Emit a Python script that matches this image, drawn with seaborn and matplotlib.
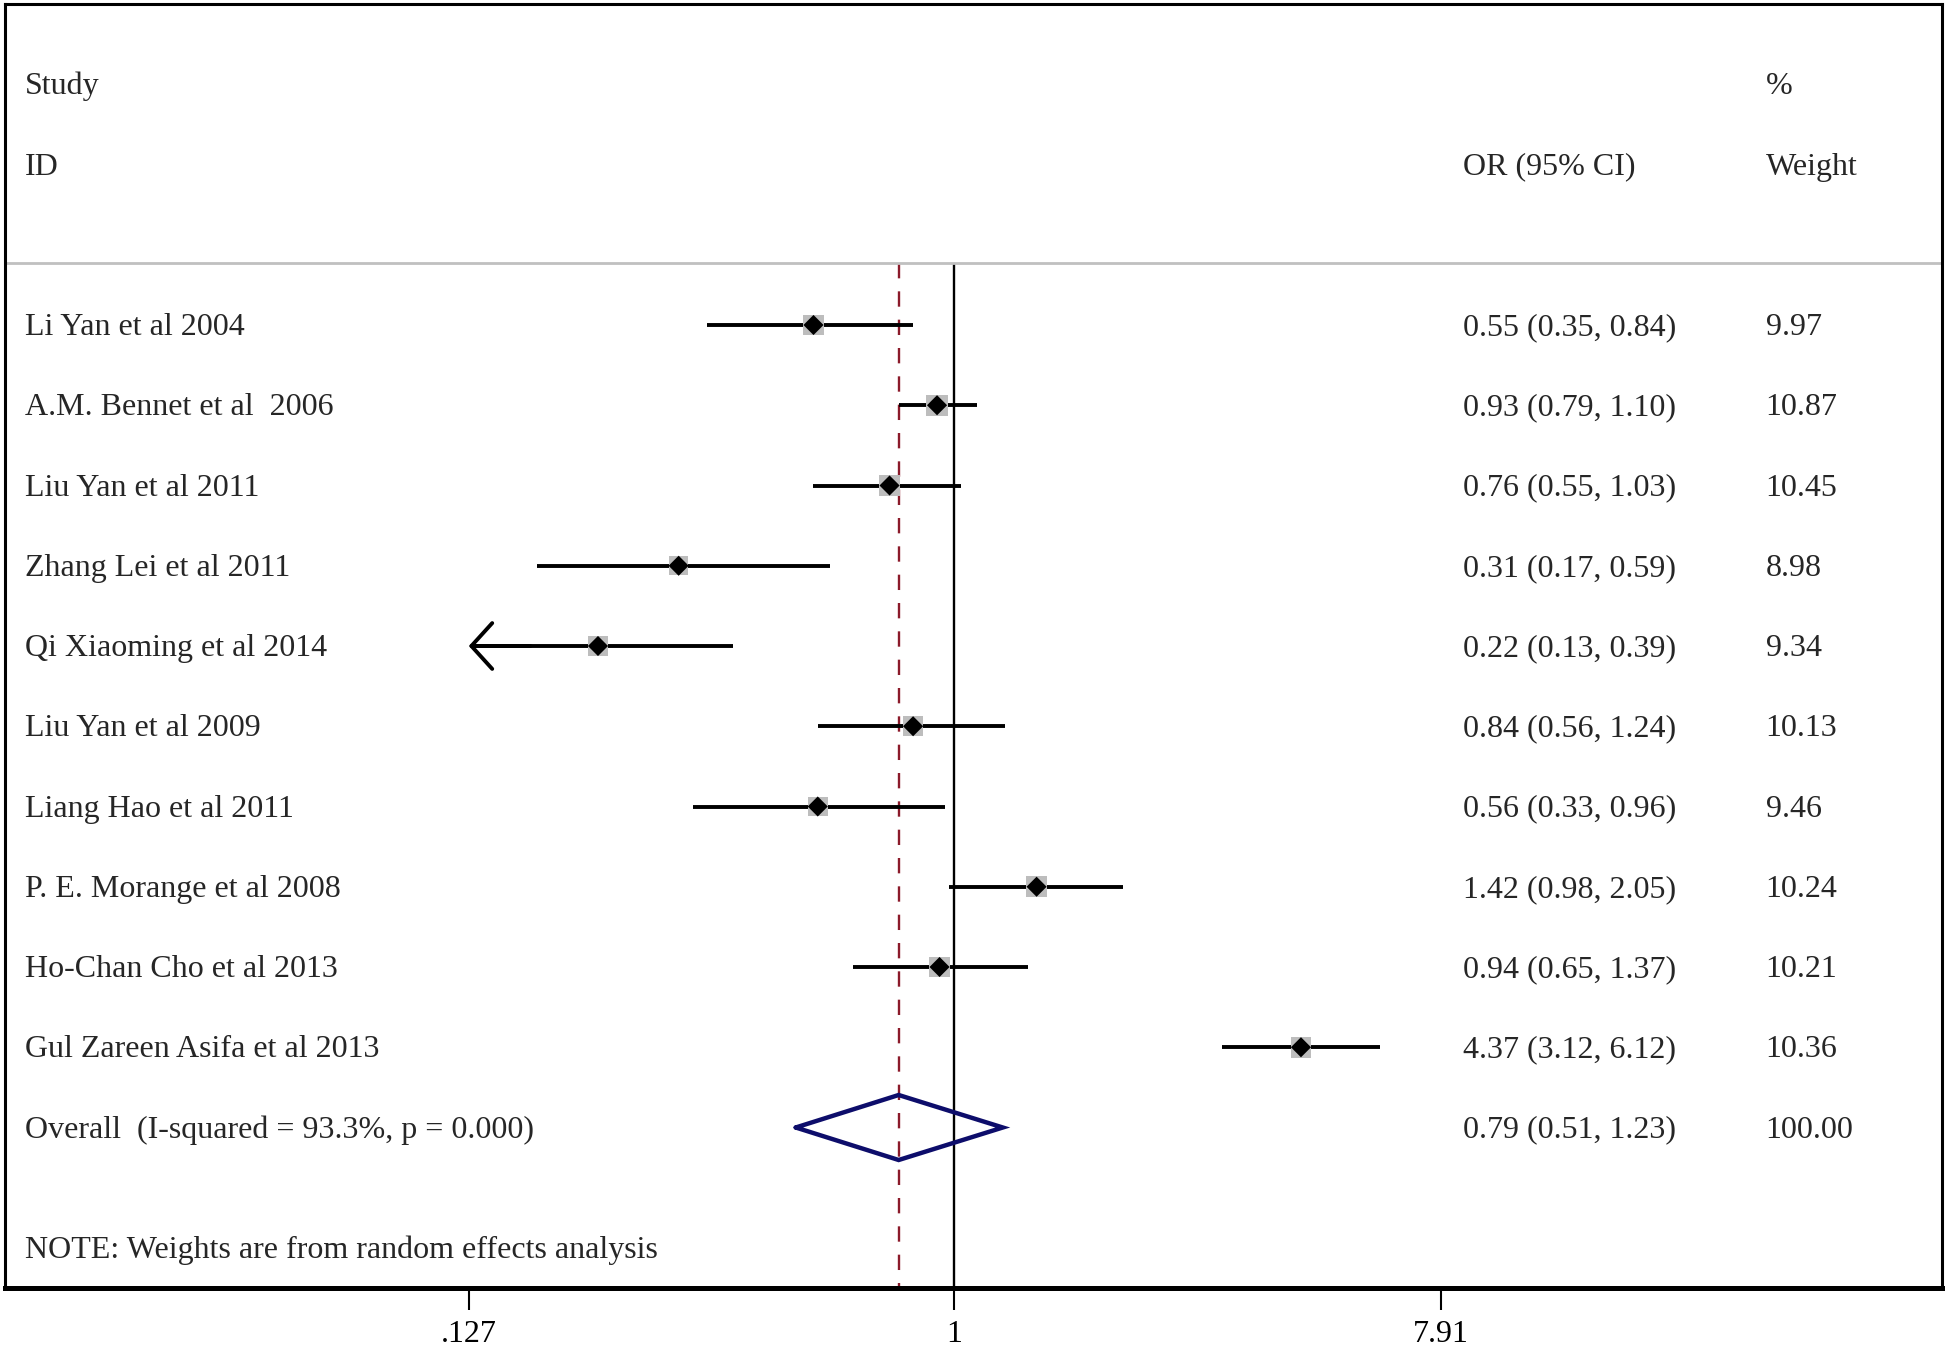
import numpy as np
import pandas as pd
import matplotlib
matplotlib.use("Agg")
import matplotlib.pyplot as plt
import seaborn as sns

# study data (OR with 95% CI, random-effects weights)
studies = ["Li Yan et al 2004", "A.M. Bennet et al  2006", "Liu Yan et al 2011",
           "Zhang Lei et al 2011", "Qi Xiaoming et al 2014", "Liu Yan et al 2009",
           "Liang Hao et al 2011", "P. E. Morange et al 2008", "Ho-Chan Cho et al 2013",
           "Gul Zareen Asifa et al 2013"]
or_vals = [0.55, 0.93, 0.76, 0.31, 0.22, 0.84, 0.56, 1.42, 0.94, 4.37]
ci_low = [0.35, 0.79, 0.55, 0.17, 0.13, 0.56, 0.33, 0.98, 0.65, 3.12]
ci_high = [0.84, 1.10, 1.03, 0.59, 0.39, 1.24, 0.96, 2.05, 1.37, 6.12]
weights = [9.97, 10.87, 10.45, 8.98, 9.34, 10.13, 9.46, 10.24, 10.21, 10.36]

overall_label = "Overall  (I-squared = 93.3%, p = 0.000)"
overall_or = 0.79
overall_low = 0.51
overall_high = 1.23
overall_weight = 100.00

x_ticks = [0.127, 1, 7.91]
x_ticklabels = [".127", "1", "7.91"]
note = "NOTE: Weights are from random effects analysis"

df = pd.DataFrame({"study": studies, "or": or_vals, "low": ci_low,
                   "high": ci_high, "weight": weights})
df["row"] = np.arange(len(df))

sns.set_theme(style="white")
plt.rcParams["font.family"] = ["Liberation Serif", "DejaVu Serif"]

W, H = 1946, 1348
fig = plt.figure(figsize=(W / 100, H / 100), dpi=100)
ax = fig.add_axes([5 / W, (H - 1288) / H, (1942 - 5) / W, (1288 - 4) / H])

ax.set_xscale("log")
ax.set_xlim(0.01768, 66.7)
ax.set_ylim(12, -4)

fs = 23
base = 0.125  # baseline offset so caps are centred on the row

# vertical reference lines
ax.vlines(1, -0.77, 12, color="black", lw=1.7, zorder=1)
ax.vlines(overall_or, -0.77, 12, color="#8b1a2a", lw=1.7,
          linestyles=(0, (6.5, 5.5)), zorder=1)

# header separator
ax.axhline(-0.77, color="#c0c0c0", lw=2, zorder=1)

# confidence intervals (clip at lower axis end with an arrow)
xmin_ci = x_ticks[0]
for _, r in df.iterrows():
    lo = max(r["low"], xmin_ci)
    ax.plot([lo, r["high"]], [r["row"], r["row"]], color="black", lw=2.8,
            solid_capstyle="butt", zorder=2)
    if r["low"] < xmin_ci or abs(r["low"] - 0.13) < 1e-9:
        ax.annotate("", xy=(xmin_ci, r["row"]), xytext=(xmin_ci * 1.3, r["row"]),
                    arrowprops=dict(arrowstyle="->,head_length=1.0,head_width=1.1",
                                    lw=2.8, color="black", shrinkA=0, shrinkB=0,
                                    mutation_scale=15), zorder=3)

# weight boxes and point estimates
sns.scatterplot(data=df, x="or", y="row", size="weight", sizes=(190, 235),
                size_norm=(8.98, 10.87), marker="s", color="#bdbdbd",
                edgecolor="none", legend=False, ax=ax, zorder=3)
sns.scatterplot(data=df, x="or", y="row", marker="D", color="black", s=105,
                edgecolor="none", legend=False, ax=ax, zorder=4)

# overall diamond
oy = len(df)
ax.plot([overall_low, overall_or, overall_high, overall_or, overall_low],
        [oy, oy - 0.405, oy, oy + 0.405, oy], color="#0d0d6b", lw=3.2,
        solid_joinstyle="miter", zorder=4)

# text columns
tr = ax.get_yaxis_transform()
x_id, x_or, x_w = 0.0103, 0.7527, 0.909
ax.text(x_id, -3 + base, "Study", transform=tr, fontsize=fs, va="baseline")
ax.text(x_id, -2 + base, "ID", transform=tr, fontsize=fs, va="baseline")
ax.text(x_or, -2 + base, "OR (95% CI)", transform=tr, fontsize=fs, va="baseline")
ax.text(x_w, -3 + base, "%", transform=tr, fontsize=fs, va="baseline")
ax.text(x_w, -2 + base, "Weight", transform=tr, fontsize=fs, va="baseline")

for _, r in df.iterrows():
    y = r["row"] + base
    ax.text(x_id, y, r["study"], transform=tr, fontsize=fs, va="baseline")
    ax.text(x_or, y, f"{r['or']:.2f} ({r['low']:.2f}, {r['high']:.2f})",
            transform=tr, fontsize=fs, va="baseline")
    ax.text(x_w, y, f"{r['weight']:.2f}", transform=tr, fontsize=fs, va="baseline")

ax.text(x_id, oy + base, overall_label, transform=tr, fontsize=fs, va="baseline")
ax.text(x_or, oy + base, f"{overall_or:.2f} ({overall_low:.2f}, {overall_high:.2f})",
        transform=tr, fontsize=fs, va="baseline")
ax.text(x_w, oy + base, f"{overall_weight:.2f}", transform=tr, fontsize=fs,
        va="baseline")
ax.text(x_id, 11.5 + base, note, transform=tr, fontsize=fs, va="baseline")

# axes styling
ax.set_xticks(x_ticks)
ax.set_xticklabels(x_ticklabels, fontsize=fs)
ax.xaxis.set_minor_locator(matplotlib.ticker.NullLocator())
ax.set_yticks([])
ax.set_xlabel("")
ax.set_ylabel("")
ax.tick_params(axis="x", direction="out", length=16, width=1.5, pad=7,
               bottom=True, colors="black")
for side in ["left", "top", "right"]:
    ax.spines[side].set_linewidth(2.2)
    ax.spines[side].set_color("black")
ax.spines["bottom"].set_linewidth(3.6)
ax.spines["bottom"].set_color("black")

fig.savefig("out.png", dpi=100)
